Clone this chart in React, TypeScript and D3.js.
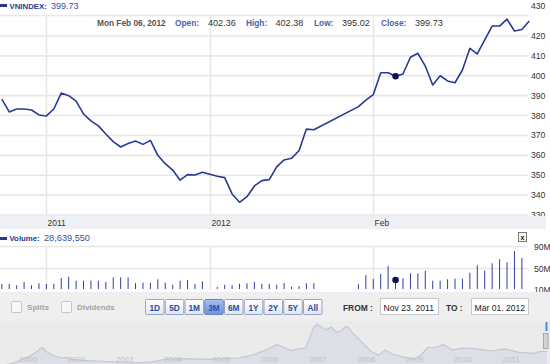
import React from 'react';
import * as d3 from 'd3';

const W = 550;
const H = 364;

// ---- data ----
const tradeDates = [
  '2011-11-23','2011-11-24','2011-11-25','2011-11-28','2011-11-29','2011-11-30',
  '2011-12-01','2011-12-02','2011-12-05','2011-12-06','2011-12-07','2011-12-08','2011-12-09',
  '2011-12-12','2011-12-13','2011-12-14','2011-12-15','2011-12-16',
  '2011-12-19','2011-12-20','2011-12-21','2011-12-22','2011-12-23',
  '2011-12-26','2011-12-27','2011-12-28','2011-12-29','2011-12-30',
  '2012-01-03','2012-01-04','2012-01-05','2012-01-06',
  '2012-01-09','2012-01-10','2012-01-11','2012-01-12','2012-01-13',
  '2012-01-16','2012-01-17','2012-01-18','2012-01-19','2012-01-20',
  '2012-01-30','2012-01-31','2012-02-01','2012-02-02','2012-02-03',
  '2012-02-06','2012-02-07','2012-02-08','2012-02-09','2012-02-10',
  '2012-02-13','2012-02-14','2012-02-15','2012-02-16','2012-02-17',
  '2012-02-20','2012-02-21','2012-02-22','2012-02-23','2012-02-24',
  '2012-02-27','2012-02-28','2012-02-29','2012-03-01',
];
const closes = [
  388.3, 381.8, 383.3, 383.3, 382.8, 380.3,
  379.8, 383.3, 391.3, 390.0, 387.3, 380.8, 377.3,
  374.8, 370.7, 366.9, 364.2, 365.9,
  367.2, 365.5, 367.5, 360.0, 355.8,
  352.6, 347.5, 350.3, 350.1, 351.5,
  349.5, 348.8, 340.6, 336.4,
  339.2, 344.6, 347.3, 347.8, 354.2,
  357.7, 358.5, 362.3, 373.2, 372.9,
  384.5, 387.8, 390.5, 401.5, 401.5,
  399.73, 400.9, 409.3, 411.3, 404.9,
  395.4, 400.0, 397.4, 396.5, 402.9,
  413.8, 411.0, 418.0, 425.0, 425.0,
  428.5, 422.5, 423.3, 427.5,
];
// volume in millions of shares
const volumesM = [
  21.2, 21.2, 18.7, 24.9, 18.7, 22.5,
  21.2, 21.7, 32.3, 34.8, 27.3, 27.3, 27.3,
  27.3, 24.9, 33.6, 33.6, 33.6,
  23.0, 23.6, 23.6, 29.9, 23.6,
  19.9, 27.3, 28.6, 21.2, 26.2,
  15.6, 19.9, 18.7, 21.7,
  22.5, 24.9, 21.7, 21.2, 19.9,
  23.0, 16.2, 17.4, 22.5, 22.5,
  20.6, 37.9, 30.5, 39.8, 54.7,
  28.64, 31.8, 41.1, 41.1, 45.9,
  27.3, 27.3, 29.9, 31.0, 31.0,
  42.2, 56.0, 45.9, 59.7, 67.1,
  61.5, 82.6, 69.5, null,
];
const priceTicks = [330, 340, 350, 360, 370, 380, 390, 400, 410, 420, 430];
const volumeTicks = [10, 50, 90];
const volumeTickLabels = ['10M', '50M', '90M'];
const xTickDates = ['2011-12-01', '2012-01-02', '2012-02-01'];
const xTickLabels = ['2011', '2012', 'Feb'];

const symbol = 'VNINDEX';
const lastValue = '399.73';
const hoverDate = '2012-02-06';
const hoverDateLabel = 'Mon Feb 06, 2012';
const ohlcLabels = ['Open:', 'High:', 'Low:', 'Close:'];
const ohlcValues = ['402.36', '402.38', '395.02', '399.73'];
const hoverVolume = '28,639,550';

const rangeButtons = ['1D', '5D', '1M', '3M', '6M', '1Y', '2Y', '5Y', 'All'];
const activeRange = '3M';
const fromDate = 'Nov 23. 2011';
const toDate = 'Mar 01. 2012';

// navigator (long-term history)
const navTimes = [
  2000.5, 2000.8, 2001.1, 2001.28, 2001.4, 2001.47, 2001.62, 2001.81, 2001.92, 2001.99,
  2002.29, 2002.74, 2003.34, 2003.71, 2004.01, 2004.38, 2004.98, 2005.58, 2005.87, 2006.17,
  2006.4, 2006.55, 2006.7, 2006.85, 2007.0, 2007.07, 2007.18, 2007.26, 2007.33, 2007.44,
  2007.56, 2007.67, 2007.78, 2007.85, 2007.93, 2008.0, 2008.11, 2008.26, 2008.41, 2008.56,
  2008.71, 2008.82, 2008.94, 2009.08, 2009.31, 2009.46, 2009.61, 2009.76, 2009.94, 2010.13,
  2010.36, 2010.65, 2010.95, 2011.25, 2011.55, 2011.85, 2012.03, 2012.15,
];
const navValues = [
  60, 148, 307, 445, 556, 463, 352, 278, 297, 241,
  214, 185, 148, 167, 241, 260, 241, 278, 352, 493,
  633, 556, 474, 519, 538, 726, 1096, 1170, 1115, 1022,
  1096, 956, 1004, 1115, 1078, 956, 818, 633, 445, 352,
  493, 400, 352, 307, 241, 352, 556, 556, 633, 493,
  538, 519, 463, 519, 426, 400, 463, 445,
];
const navLabels = ['2000', '2002', '2003', '2004', '2005', '2006', '2007', '2008', '2009', '2010', '2011'];

// ---- helpers ----
const startDate = new Date(tradeDates[0] + 'T00:00:00Z');
function weekdayIndex(s: string): number {
  const d = new Date(s + 'T00:00:00Z');
  let n = 0;
  const t = new Date(startDate.getTime());
  while (t < d) {
    const wd = t.getUTCDay();
    if (wd !== 0 && wd !== 6) n++;
    t.setUTCDate(t.getUTCDate() + 1);
  }
  return n;
}

const FONT = '"Liberation Sans", Arial, sans-serif';

export default function App() {
  const rows = tradeDates.map((d, i) => ({
    idx: weekdayIndex(d),
    close: closes[i],
    vol: volumesM[i],
    date: d,
  }));
  const lastIdx = rows[rows.length - 1].idx;

  const plotLeft = 0;
  const plotRight = 528;
  const plotTop = 15;
  const plotBottom = 216;

  const x = d3.scaleLinear().domain([0, lastIdx]).range([1.8, 529.3]);
  const y = d3.scaleLinear().domain([330, 420]).range([215, 36]);
  const yv = d3.scaleLinear().domain([10, 90]).range([290, 247]);

  const line = d3
    .line<any>()
    .x((d) => x(d.idx))
    .y((d) => y(d.close));

  const hover = rows.find((r) => r.date === hoverDate)!;

  const navX = d3.scaleLinear().domain([2000.5, 2012.17]).range([0, 548]);
  const navY = d3.scaleLinear().domain([0, 1170]).range([368.5, 324.3]);
  const navArea = d3
    .area<number>()
    .x((_, i) => navX(navTimes[i]))
    .y0(370)
    .y1((v) => navY(v));
  const navLine = d3
    .line<number>()
    .x((_, i) => navX(navTimes[i]))
    .y((v) => navY(v));
  const navLabelX = d3.scaleLinear().domain([0, navLabels.length - 1]).range([28, 511]);

  const gridColor = '#e7e7e7';
  const lineColor = '#283a93';
  const blue = '#2a3990';

  const ohlcLabelX = [175, 246, 314, 381];
  const ohlcValueX = [208, 275.5, 342, 415];

  const btnX = d3.scaleLinear().domain([0, 1]).range([145, 164.75]);

  return (
    <svg
      width={W}
      height={H}
      style={{ position: 'absolute', left: 0, top: 0, display: 'block', background: '#fff' }}
      fontFamily={FONT}
    >
      <defs>
        <clipPath id="plotClip">
          <rect x={plotLeft} y={plotTop} width={plotRight - plotLeft + 2} height={plotBottom - plotTop} />
        </clipPath>
        <clipPath id="volClip">
          <rect x={0} y={246} width={526} height={43} />
        </clipPath>
        <clipPath id="navClip">
          <rect x={0} y={321} width={550} height={43} />
        </clipPath>
        <linearGradient id="btnGrad" x1="0" y1="0" x2="0" y2="1">
          <stop offset="0" stopColor="#ffffff" />
          <stop offset="1" stopColor="#e3e7ef" />
        </linearGradient>
        <linearGradient id="btnActive" x1="0" y1="0" x2="0" y2="1">
          <stop offset="0" stopColor="#a6c0ee" />
          <stop offset="1" stopColor="#6f94da" />
        </linearGradient>
      </defs>

      {/* header */}
      <rect x={0} y={4} width={7} height={3} fill={blue} />
      <text x={9.5} y={9} fontSize={7.8} fontWeight="bold" fill={blue}>
        {symbol}:
      </text>
      <text x={51} y={9} fontSize={9} fill="#3550a8">
        {lastValue}
      </text>

      {/* price plot gridlines */}
      <line x1={plotLeft} x2={plotRight} y1={plotTop + 0.5} y2={plotTop + 0.5} stroke={gridColor} strokeWidth={1.5} />
      {priceTicks
        .filter((t) => t < 430)
        .map((t) => (
          <line key={'g' + t} x1={plotLeft} x2={plotRight} y1={y(t)} y2={y(t)} stroke={gridColor} strokeWidth={1.6} />
        ))}
      {xTickDates.map((d, i) => {
        const gx = Math.round(x(weekdayIndex(d))) + 0.5;
        return (
          <line key={'v' + i} x1={gx} x2={gx} y1={plotTop} y2={plotBottom} stroke={gridColor} strokeWidth={1.5} />
        );
      })}

      {/* OHLC info row */}
      <text x={97} y={26} fontSize={8.3} fontWeight="bold" fill="#555">
        {hoverDateLabel}
      </text>
      {ohlcLabels.map((l, i) => (
        <text key={l} x={ohlcLabelX[i]} y={26} fontSize={8.3} fontWeight="bold" fill="#4a5fae">
          {l}
        </text>
      ))}
      {ohlcValues.map((v, i) => (
        <text key={'ov' + i} x={ohlcValueX[i]} y={26} fontSize={9.1} fill="#333">
          {v}
        </text>
      ))}

      {/* price line */}
      <g clipPath="url(#plotClip)">
        <path d={line(rows) || ''} fill="none" stroke={lineColor} strokeWidth={1.6} strokeLinejoin="round" />
        <circle cx={x(hover.idx)} cy={y(hover.close)} r={3.3} fill="#0d1450" />
      </g>

      {/* price axis labels */}
      {priceTicks.map((t) => (
        <text key={'pl' + t} x={531} y={t === 430 ? 8.5 : y(t) + 3} fontSize={8.6} fill="#333">
          {t}
        </text>
      ))}

      {/* x axis band */}
      <rect x={0} y={plotBottom} width={546} height={13} fill="#eff0f4" />
      {xTickDates.map((d, i) => (
        <text key={'xl' + i} x={Math.round(x(weekdayIndex(d))) + 1.5} y={226} fontSize={8.5} fill="#333">
          {xTickLabels[i]}
        </text>
      ))}

      {/* volume header */}
      <rect x={0} y={237} width={7} height={3} fill={blue} />
      <text x={9.5} y={241} fontSize={7.8} fontWeight="bold" fill={blue}>
        Volume:
      </text>
      <text x={44} y={241} fontSize={9.2} fill="#3550a8">
        {hoverVolume}
      </text>
      <rect x={518.5} y={232.5} width={8} height={9} fill="#f4f4f4" stroke="#7a7a7a" />
      <text x={522.5} y={240} fontSize={7} fontWeight="bold" textAnchor="middle" fill="#222">
        x
      </text>

      {/* volume panel */}
      <line x1={0} x2={plotRight} y1={246.5} y2={246.5} stroke={gridColor} strokeWidth={1.5} />
      <line x1={0} x2={plotRight} y1={yv(50)} y2={yv(50)} stroke={gridColor} strokeWidth={1.5} />
      {xTickDates.map((d, i) => {
        const gx = Math.round(x(weekdayIndex(d))) + 0.5;
        return <line key={'vv' + i} x1={gx} x2={gx} y1={246} y2={290} stroke={gridColor} strokeWidth={1.5} />;
      })}
      <g clipPath="url(#volClip)">
        {rows
          .filter((r) => r.vol != null)
          .map((r) => (
            <line
              key={'vb' + r.idx}
              x1={x(r.idx)}
              x2={x(r.idx)}
              y1={yv(r.vol as number)}
              y2={292}
              stroke="#2f3f9f"
              strokeWidth={1}
            />
          ))}
        <circle cx={x(hover.idx)} cy={yv(hover.vol as number)} r={3.3} fill="#0d1450" />
      </g>
      {volumeTicks.map((t, i) => (
        <text key={'vl' + t} x={534} y={yv(t) + 3} fontSize={8.6} fill="#333">
          {volumeTickLabels[i]}
        </text>
      ))}

      {/* controls band */}
      <rect x={0} y={292} width={W} height={29} fill="#efefef" />
      <rect x={11.5} y={301.5} width={10} height={11} rx={1} fill="#f7f7f7" stroke="#c6c6c6" />
      <text x={27} y={310} fontSize={8.1} fontWeight="bold" fill="#a3a3a3">
        Splits
      </text>
      <rect x={61.5} y={301.5} width={10} height={11} rx={1} fill="#f7f7f7" stroke="#c6c6c6" />
      <text x={77} y={310} fontSize={7.9} fontWeight="bold" fill="#a3a3a3">
        Dividends
      </text>
      {rangeButtons.map((b, i) => {
        const bx = btnX(i);
        const active = b === activeRange;
        return (
          <g key={b}>
            <rect
              x={bx + 0.5}
              y={299.5}
              width={18.5}
              height={15}
              rx={1}
              fill={active ? 'url(#btnActive)' : 'url(#btnGrad)'}
              stroke={active ? '#6a86c4' : '#98a3bd'}
            />
            <text
              x={bx + 9.75}
              y={310.5}
              fontSize={8.3}
              fontWeight="bold"
              textAnchor="middle"
              fill={active ? '#2e4da6' : '#2a4ca8'}
            >
              {b}
            </text>
          </g>
        );
      })}
      <text x={343} y={311} fontSize={8.4} fontWeight="bold" fill="#333">
        FROM :
      </text>
      <rect x={380.5} y={298.5} width={58} height={16} fill="#fff" stroke="#c8c8c8" />
      <text x={383.5} y={310.5} fontSize={8.6} fill="#222">
        {fromDate}
      </text>
      <text x={446} y={311} fontSize={8.4} fontWeight="bold" fill="#333">
        TO :
      </text>
      <rect x={471.5} y={298.5} width={57} height={16} fill="#fff" stroke="#c8c8c8" />
      <text x={474.5} y={310.5} fontSize={8.6} fill="#222">
        {toDate}
      </text>

      {/* navigator */}
      <rect x={0} y={321} width={W} height={43} fill="#ebebeb" />
      <g clipPath="url(#navClip)">
        <path d={navArea(navValues) || ''} fill="#dcdfe5" />
        <path d={navLine(navValues) || ''} fill="none" stroke="#c4c8d2" strokeWidth={1.2} />
      </g>
      {navLabels.map((l, i) => (
        <text key={l} x={navLabelX(i)} y={362} fontSize={8} textAnchor="middle" fill="#c2c2c2">
          {l}
        </text>
      ))}
      <rect x={545.5} y={322} width={2} height={9} fill="#3d8ee2" />
      <rect x={543.5} y={333.5} width={4.5} height={15} fill="#d4d4d4" stroke="#9a9a9a" strokeWidth={0.8} />
    </svg>
  );
}
